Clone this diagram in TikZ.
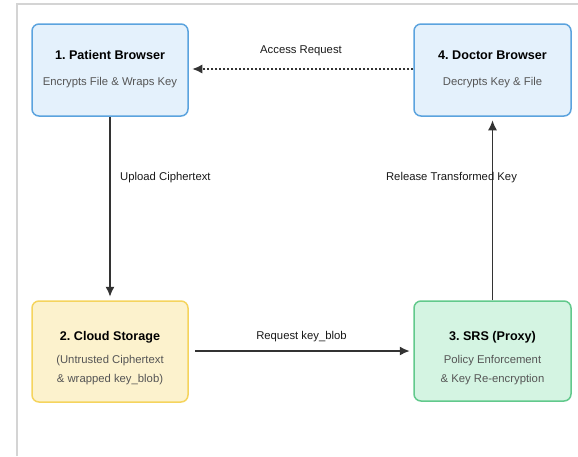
\documentclass[tikz,border=0pt]{standalone}
\usepackage{fontspec}
\setmainfont{Liberation Sans}
\usetikzlibrary{arrows.meta}
\definecolor{frameline}{HTML}{D4D4D4}
\definecolor{blueFill}{HTML}{E4F1FC}
\definecolor{blueLine}{HTML}{5BA3DE}
\definecolor{yellowFill}{HTML}{FCF2CD}
\definecolor{yellowLine}{HTML}{F5D45E}
\definecolor{greenFill}{HTML}{D4F4E2}
\definecolor{greenLine}{HTML}{62C98C}
\definecolor{subText}{HTML}{555555}
\definecolor{edgeLine}{HTML}{333333}
\frenchspacing
\begin{document}
\begin{tikzpicture}[x=1pt,y=-1pt,
  box/.style={draw, line width=1.5pt, rounded corners=7pt, inner sep=0pt},
  title/.style={font=\bfseries\fontsize{12.6}{14}\selectfont, text=black, inner sep=0pt},
  sub/.style={font=\fontsize{11.3}{13}\selectfont, text=subText, inner sep=0pt},
  elabel/.style={font=\fontsize{11.3}{13}\selectfont, text=black!90, inner sep=0pt},
  flow/.style={draw=edgeLine, line width=1.5pt, -{Latex[length=10pt,width=9pt]}, shorten >=3.5pt}
]
\useasboundingbox (0,0) rectangle (578,456);
% outer frame (top and left edges only)
\draw[frameline, line width=1.5pt] (17,456) -- (17,4) -- (578,4);

% boxes
\node[box, draw=blueLine, fill=blueFill, minimum width=156pt, minimum height=92pt] (pat) at (110,70) {};
\node[box, draw=blueLine, fill=blueFill, minimum width=157pt, minimum height=92pt] (doc) at (492.5,70) {};
\node[box, draw=yellowLine, fill=yellowFill, minimum width=156pt, minimum height=101pt] (cld) at (110,351.5) {};
\node[box, draw=greenLine, fill=greenFill, minimum width=157pt, minimum height=100pt] (srs) at (492.5,351) {};

% box texts
\node[title] (patT) at (110,55) {1. Patient Browser};
\node[sub] (patS) at (110,83) {Encrypts File \& Wraps Key};
\node[title] (docT) at (492.5,55) {4. Doctor Browser};
\node[sub] (docS) at (492.5,83) {Decrypts Key \& File};
\node[title] (cldT) at (110,337) {2. Cloud Storage};
\node[sub] (cldS1) at (110,361) {(Untrusted Ciphertext};
\node[sub] (cldS2) at (110,380) {\& wrapped key\_blob)};
\node[title] (srsT) at (492.5,337) {3. SRS (Proxy)};
\node[sub] (srsS1) at (492.5,361) {Policy Enforcement};
\node[sub] (srsS2) at (492.5,380) {\& Key Re-encryption};

% connectors
\coordinate (reqStart) at (195,351);
\draw[flow, dash pattern=on 2pt off 2pt] (doc.west |- 0,69) -- (pat.east |- 0,69);
\draw[flow] (pat.south) -- (cld.north);
\draw[flow] (reqStart) -- (srs.west |- reqStart);
\draw[flow] (srs.north) -- (doc.south);

% connector labels
\node[elabel] (lAccess) at (301,51) {Access Request};
\node[elabel, anchor=west] (lUpload) at (120,178) {Upload Ciphertext};
\node[elabel] (lReq) at (301.5,337) {Request key\_blob};
\node[elabel] (lRel) at (451.5,178) {Release Transformed Key};
\end{tikzpicture}
\end{document}
